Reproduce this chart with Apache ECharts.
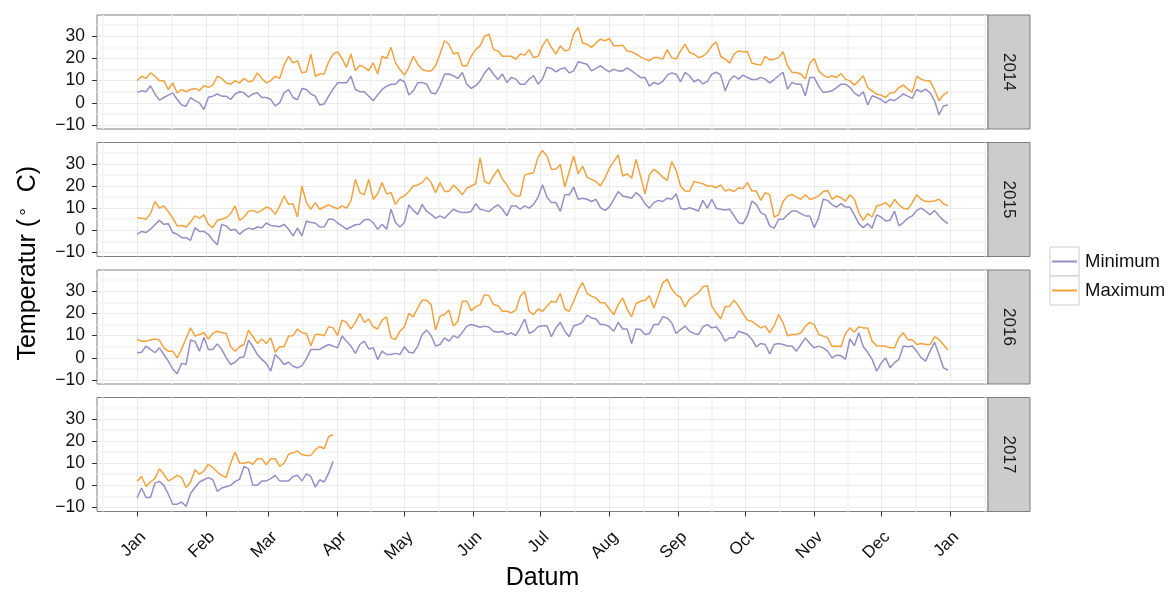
<!DOCTYPE html>
<html><head><meta charset="utf-8">
<script src="https://cdn.jsdelivr.net/npm/echarts@6/dist/echarts.min.js"></script>
<style>html,body{margin:0;padding:0;background:#fff}#c{width:1171px;height:592px}</style>
</head><body><div id="c"></div><script>
// ---------- data ----------
const years = ['2014', '2015', '2016', '2017'];
const monthLabels = ['Jan','Feb','Mar','Apr','May','Jun','Jul','Aug','Sep','Oct','Nov','Dec','Jan'];
const monthStarts = [0,31,59,90,120,151,181,212,243,273,304,334,365];
const minorDays = [-15.5,15.5,45,74.5,105,135.5,166,196.5,227.5,258,288.5,319,349.5,380.5];
const yTicks = [-10,0,10,20,30];
const yMinor = [-5,5,15,25,35];
const sampleStep = 2; // days between samples, starting Jan 1

const max2014 = [10,12,11,13.5,12,10,10,6,9,4.5,6,5,6,6.5,5.5,7.7,7,8,12,11,9,8.4,10,9,11,9.5,10,13.5,11,9,10,12,11,17,21,18,19,13.5,14,22,12,13,13,18.5,22,23,20,16,22,14.5,17,16,14.5,18,13,21,20,25,18,15,
12.5,16,21,17.4,15,14.4,14.4,16.7,22,28,26.4,22,22.7,16.7,16.7,21,24,25.7,30,31,24,23.4,21,21,21,19.7,22,21.5,24,20.4,21,25.7,28.7,25,22,25.7,23.4,24,31,34,27,26.4,25,27,28.7,28,29,25.7,25.7,26,23.4,23,22,20.7,19.7,19,20.4,20.4,19.7,24,20.4,19.7,23.4,26.4,22.7,
22,20.4,21,22.7,25.7,27.5,21,19.7,17.9,22,23.4,23,23,18,17.4,17,21,19.4,19.7,20.4,23,16.7,13.7,13.7,13,10.7,18,20,14.4,12.5,11.4,12.2,11.4,13.2,10.7,9.9,8,9.9,12.2,6.9,5.4,3.9,3.5,2.4,4.4,4.7,6.9,8,6.2,4.7,11.9,10.7,9.9,9.9,5.9,0.9,3.5,5];
const min2014 = [4.7,5.4,5,7.7,4,1.2,2.4,3.5,4.5,1.5,-1,-1.5,2.4,1,0,-3,2.5,3,4,3,3,1.5,4,5,4.5,2.6,4,4.5,2.4,2.4,1.5,-1.4,0,4.5,6,2.4,1.4,6.5,6,4,3,-1,-0.5,3,6.2,9,9,9,12,6,5,5,3,1,3.5,6,7.5,8.4,8.4,10.5,
9.5,3.5,5.4,9,9.2,8.4,4.5,4,7.7,12.9,13,12.2,11,13.7,8.4,6.5,7.7,9.9,13.5,15.8,12.9,10.5,13,9.2,11.4,10.7,8.4,8.4,10.7,12.2,8.4,10.7,16,15.5,14,15.2,15.8,13.5,14.4,18.5,18,17.4,14.4,15.5,16.7,15.2,14,15.2,14.4,14.4,15.8,14.4,13,11.4,11.4,7.5,9.2,8.4,9.7,12.5,13.5,12.9,9.5,13.7,12.2,
9.5,10.5,8.5,9.7,12.9,13.8,12.5,5.4,10.2,12.2,10.7,12.5,11.4,10.5,10.5,11.5,10.7,9,10.5,12.2,13.7,6.2,9.2,8.4,8.4,3.2,11.4,11.4,7.5,4.7,5,5.4,6.9,8.4,8.4,7,4.5,3,5,-1,3.2,2.4,1.5,0,1.5,1,2.4,4,3,2,6,5,6.2,4.5,1,-5.5,-1.4,-1];

const max2015 = [5.7,5.5,5,7.5,13,10,11,8.5,5.5,2,2.2,1.5,3.8,6.5,5.5,7,2.7,1.2,4.5,5,5.7,7.5,11,4.5,6,8.6,9,8,9,10.5,9.7,7.2,11,15.5,11.7,12,6,20,12.6,9.5,12.5,9.5,10.5,11.5,10.5,9.7,11,10,13.2,23,17,16,23,14,16.5,21.5,16.5,17,11.7,14.5,
15.5,17.5,20,20.5,21.5,24,21.5,17,21.5,17.5,17.5,20.4,18.5,16,19,20,21,32.7,22,21,24.5,27.5,23,20.5,17,15.5,15.5,25,25.5,26,33,36,33.5,27.5,27.5,29.7,19.5,26.5,33.5,25.5,29,24,23,22,20,23.5,28,31,34,24.5,25.5,23.5,32,24.5,16.5,25,27.5,26,24,22.5,31,27,20,17.7,17.5,
22,21.5,21,20,20,19.2,20.5,17.7,18.5,17.5,19.2,18.8,21.5,17.7,17.7,13.5,17,16,6,7,13,15.5,16.2,15,14,16,14,14.5,15.5,17.5,18,14,15.5,14.7,13.2,16,14,8,4.5,7.5,6,11,11.5,12.5,10.5,14,11.5,10,9.5,12.5,16,14,13,13,13.2,14,12,11];
const min2015 = [-1.8,-0.5,-1,0.5,2.5,4.5,2.7,3,-1,-1.8,-3.3,-3.3,-4.5,1.2,-0.5,-0.5,-1.8,-4.5,-6.5,2.7,2,0,0.5,-1.8,0,1,0.5,1.5,1.2,3.3,2.2,2,1.6,2.7,0.5,-2.5,1,-2.5,4.2,3.5,3.3,1.5,1.6,5,5,3.3,2,0.5,1.5,2.5,2.7,4.7,5,3.5,0.5,2.7,0.5,9.5,3.5,1.5,
3.5,11.5,9,7.2,11.7,8.5,7.2,5.5,6.5,5.5,7.5,9.5,8.5,8,8,8.5,12,9.5,9,8.5,10.2,11.5,9.5,6.5,11,11,9.5,11,10,11.7,15,20.5,15,12.5,12.5,8.5,16,16,19.5,14,14.5,14,13,14,10.2,9,10.5,14,17.5,15.5,15,14.5,17,15.3,12,10,12.5,13.5,13,14.5,14,16.5,10,9.5,10.2,
9.5,8.7,13.5,10,14,10,9.5,9.2,9.5,6.5,3.5,3,6.5,13.2,11.7,8,7,2,1,5,5,7,8.7,8.7,7.5,6.5,6.5,1.2,5.7,14,13.5,11.5,10.5,12,10.5,10.5,7,3,1.2,3,1,7,6,4.2,4.5,8.7,2,3.5,5.5,6.5,9,10,8.7,7,9,6.5,4.5,3];

const max2016 = [8.3,7.5,7.5,8,8.5,8,4.5,3,3,0,4,8.7,13.5,9.8,10.5,11.3,8.5,11,12,11.3,11,5,3,5,6,12.5,9.5,6.5,8.5,6.5,9,2.5,5,5,9.8,10,13,11.3,11,5.5,10.5,10.5,10,14,13.5,10,17,16,13,16,20,16,17.5,14,13,17,18.5,9,8.3,12,
14,20,18.5,22.5,26,26,24,12.5,18.8,19.5,21.5,14.3,16.5,25.5,25.5,21.3,23,24,28.5,28,24,23.5,21,21,20.3,21.5,27.8,30,21,19.5,22,21,23.3,25.5,25,29,22,21,25.5,30.5,34,29,27.8,27,24.8,24.8,22,19.5,24,27,22,18.5,24.5,25.5,26,28,22.5,28,33.8,35.5,31,28.5,27.3,23,26.5,
28,29.3,32,32.5,23.3,20.3,17.5,23,23.3,26,23.3,20,17,16.5,15,13.5,14.3,11.3,14.5,19.5,15.8,10,10.5,10.5,11.3,14.3,16,15,10.5,9.8,9,5.2,5.3,5,11,13.5,11.5,14,13.5,13.5,7.5,5.5,5.3,5.3,4.5,4.5,9,11.3,8.2,8.2,6,6.5,6,6,9.5,8.3,6,3.5];
const min2016 = [2.3,2.5,5.3,3.8,2.3,4.5,1.5,-1.5,-5,-7.2,-2.5,-3,8,7.4,3,9.3,3.8,3.8,6.3,3.8,0,-3,-2,0,0.5,8,5,1.5,-0.7,-2.5,-6,1.5,-0.5,-3,-2,-3.8,-4.5,-3.5,-0.5,3.8,3.8,3.8,5,6,5.3,4.5,9.8,7.5,5.3,2,6,7.5,4,4.5,-0.8,3,1.5,1.5,2,1.5,
5,2.5,2.2,5.3,10.5,12.5,10,5.3,6,9,7.5,10,9,11.5,14.3,15,14.5,13.8,14.3,13.8,12,11.5,12,10.5,11.3,10,13.5,17.5,11,12,14,14.5,14.5,9.5,13.5,16,12,9.5,14.5,15,16,19.3,18,17.5,15,15,14,12,16,13,13,6.5,13,12.8,10.5,11,15,15,18.5,18,15.8,11,12.7,14.3,12,
11,10.5,14,15,13.5,14,11.3,7.5,9,9,12,11.3,10.5,8.3,5,6.5,6,1.8,6,6.5,6,5.3,5.3,3,6,9,6.5,4.5,5.3,4.5,3,0,1.2,1,-0.7,8.5,5.5,11.3,5,2.5,-0.7,-6,-2.5,0,-4.5,-2.2,-0.7,5.3,5,5.3,3,0,-1.5,3,7,1.5,-4.5,-5.5];

const max2017 = [1.8,4,-0.5,1.5,3,7.5,5,2,3,4.5,3.5,-1,1.5,7,5,6.5,9.5,8,6,4.5,3.5,10,15,10,10,10.5,9.5,12,12,9.3,12,12,8.5,10,14,14.7,15.5,13.8,13.5,13.5,16,17.5,16.5,22,22.8];
const min2017 = [-5.7,-1.2,-5.5,-5.5,1,1.8,0,-4,-8.5,-8.5,-7.5,-9.5,-3.7,-1,1.5,2.5,3.5,2.5,-2.7,-1.2,-0.6,0,1.8,2.7,8.5,7.5,0,0,2,2,3,4.5,2,2,2,4,4.5,2,5.2,4,-0.8,2.5,1.5,5.5,10.8];

const minByYear = [min2014, min2015, min2016, min2017];
const maxByYear = [max2014, max2015, max2016, max2017];

// ---------- layout / style ----------
const FONT = 'Liberation Sans, Arial, Helvetica, sans-serif';
const PANEL_LEFT = 97, PANEL_W = 891, PANEL_H = 114;
const PANEL_TOPS = [15, 142.5, 270, 397.5];
const STRIP_W = 42;
const COL_MIN = '#998ec3', COL_MAX = '#f1a340';
const X_MIN = -18, X_MAX = 382, Y_MIN = -11.8, Y_MAX = 39.6;

const grids = [], xAxes = [], yAxes = [], series = [], graphics = [];
PANEL_TOPS.forEach((top, i) => {
  const bottomPanel = i === PANEL_TOPS.length - 1;
  grids.push({left: PANEL_LEFT, top: top, width: PANEL_W, height: PANEL_H, show: true,
    backgroundColor: '#fff', borderColor: '#7f7f7f', borderWidth: 1, containLabel: false});
  // minor x
  xAxes.push({type: 'value', gridIndex: i, min: X_MIN, max: X_MAX, position: 'top',
    axisLine: {show: false, onZero: false}, axisLabel: {show: false},
    axisTick: {show: false, customValues: minorDays},
    splitLine: {show: true, lineStyle: {color: '#f3f3f3', width: 1.5}}});
  // major x
  xAxes.push({type: 'value', gridIndex: i, min: X_MIN, max: X_MAX, position: 'bottom',
    axisLine: {show: false, onZero: false},
    axisTick: {show: bottomPanel, customValues: monthStarts, length: 5, lineStyle: {color: '#333', width: 1}},
    axisLabel: {show: bottomPanel, customValues: monthStarts, rotate: 45, margin: 17,
      align: 'right', verticalAlign: 'top',
      fontFamily: FONT, fontSize: 17, color: '#111',
      formatter: v => monthLabels[monthStarts.indexOf(v)]},
    splitLine: {show: true, lineStyle: {color: '#e5e5e5', width: 0.8}}});
  // minor y
  yAxes.push({type: 'value', gridIndex: i, min: Y_MIN, max: Y_MAX, position: 'right',
    axisLine: {show: false, onZero: false}, axisLabel: {show: false},
    axisTick: {show: false, customValues: yMinor},
    splitLine: {show: true, lineStyle: {color: '#f3f3f3', width: 1.5}}});
  // major y
  yAxes.push({type: 'value', gridIndex: i, min: Y_MIN, max: Y_MAX, position: 'left',
    axisLine: {show: false, onZero: false},
    axisTick: {show: true, customValues: yTicks, length: 5, lineStyle: {color: '#333', width: 1}},
    axisLabel: {show: true, customValues: yTicks, margin: 12, fontFamily: FONT, fontSize: 17.5, color: '#111',
      formatter: v => String(v).replace('-', '\u2212')},
    splitLine: {show: true, lineStyle: {color: '#e5e5e5', width: 0.8}}});

  const toData = arr => arr.map((v, k) => [k * sampleStep, v]);
  series.push({name: 'Minimum', type: 'line', xAxisIndex: 2 * i + 1, yAxisIndex: 2 * i + 1,
    data: toData(minByYear[i]), showSymbol: false, symbol: 'none',
    lineStyle: {color: COL_MIN, width: 1.5}, itemStyle: {color: COL_MIN}, z: 3});
  series.push({name: 'Maximum', type: 'line', xAxisIndex: 2 * i + 1, yAxisIndex: 2 * i + 1,
    data: toData(maxByYear[i]), showSymbol: false, symbol: 'none',
    lineStyle: {color: COL_MAX, width: 1.5}, itemStyle: {color: COL_MAX}, z: 3});

  // facet strip
  graphics.push({type: 'rect', shape: {x: PANEL_LEFT + PANEL_W, y: top, width: STRIP_W, height: PANEL_H},
    style: {fill: '#cccccc', stroke: '#7f7f7f', lineWidth: 1}, z: 1});
  graphics.push({type: 'text', x: PANEL_LEFT + PANEL_W + STRIP_W / 2, y: top + PANEL_H / 2, rotation: -Math.PI / 2,
    style: {text: years[i], textAlign: 'center', textVerticalAlign: 'middle', fill: '#1a1a1a',
      font: '17px ' + FONT}, z: 2});
});

// axis titles
graphics.push({type: 'text', x: PANEL_LEFT + PANEL_W / 2, y: 578,
  style: {text: 'Datum', textAlign: 'center', textVerticalAlign: 'middle', fill: '#000', font: '25px ' + FONT}});
graphics.push({type: 'text', x: 28, y: (PANEL_TOPS[0] + PANEL_TOPS[3] + PANEL_H) / 2, rotation: Math.PI / 2,
  style: {text: '{a|Temperatur (}{s|\u00b0}{a|  C)}', textAlign: 'center', textVerticalAlign: 'middle', fill: '#000',
    font: '25px ' + FONT,
    rich: {a: {font: '25px ' + FONT, fill: '#000'}, s: {font: '19px ' + FONT, fill: '#000', padding: [0, 2, 0, 3]}}}});
// legend key boxes
[0, 1].forEach(k => graphics.push({type: 'rect', shape: {x: 1050, y: 247 + 29 * k, width: 29, height: 29},
  style: {fill: '#fff', stroke: '#cccccc', lineWidth: 1}, z: 0}));

const chart = echarts.init(document.getElementById('c'), null, {renderer: 'canvas'});
chart.setOption({
  animation: false,
  backgroundColor: '#fff',
  grid: grids, xAxis: xAxes, yAxis: yAxes, series: series,
  legend: {show: true, orient: 'vertical', left: 1052, top: 247, padding: 0, itemGap: 0,
    itemWidth: 25, itemHeight: 2, icon: 'rect',
    data: [{name: 'Minimum', itemStyle: {color: COL_MIN}}, {name: 'Maximum', itemStyle: {color: COL_MAX}}],
    textStyle: {fontFamily: FONT, fontSize: 18.5, lineHeight: 29, color: '#111', padding: [0, 0, 0, 3]}, selectedMode: false},
  graphic: graphics
});
</script></body></html>
